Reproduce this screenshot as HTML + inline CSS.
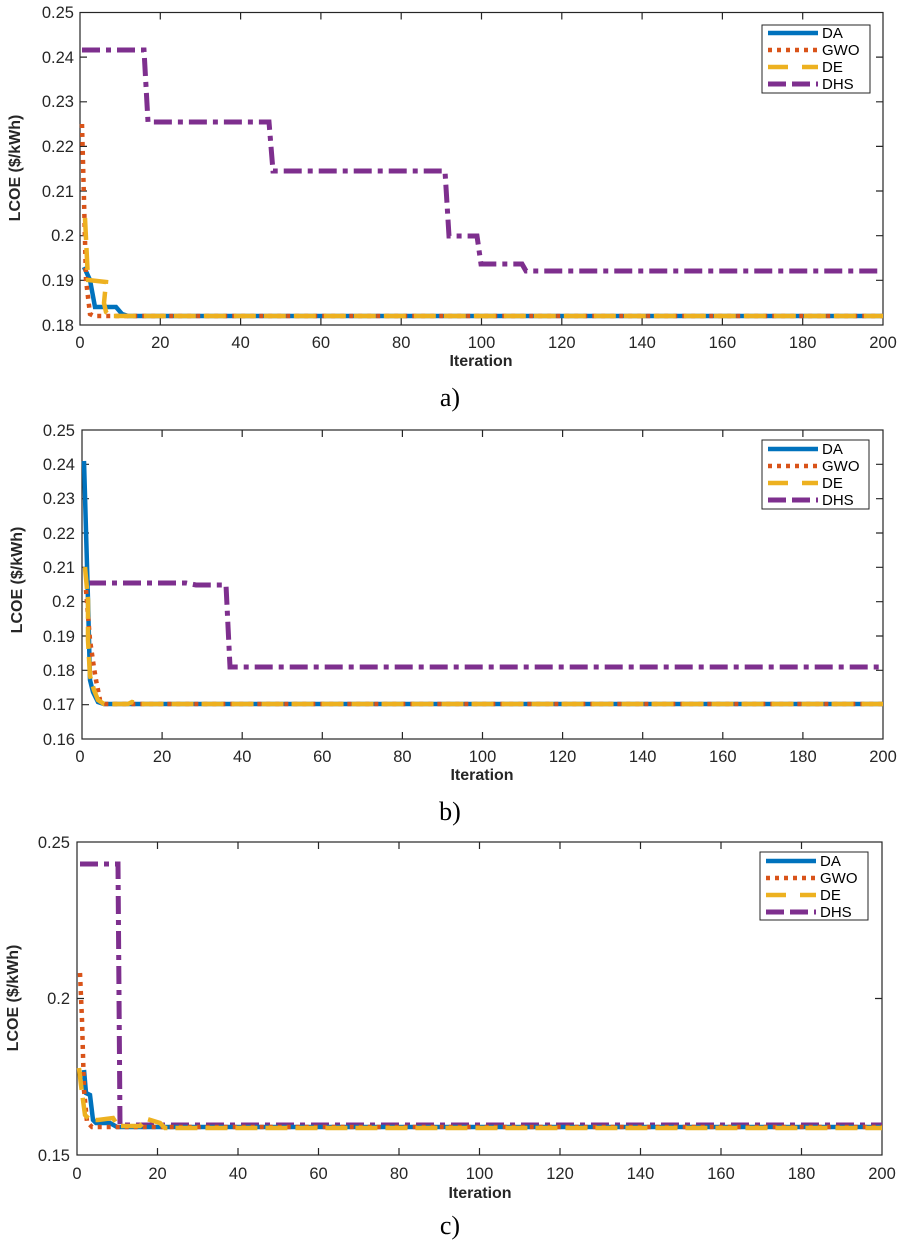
<!DOCTYPE html>
<html><head><meta charset="utf-8"><style>
html,body{margin:0;padding:0;background:#fff;}
svg{display:block;}
.t{font-family:"Liberation Sans",sans-serif;font-size:16.5px;fill:#262626;}
.b{font-family:"Liberation Sans",sans-serif;font-size:16px;font-weight:bold;fill:#262626;}
.cap{font-family:"Liberation Serif",serif;font-size:26px;fill:#000;}
.lg{font-family:"Liberation Sans",sans-serif;font-size:15px;fill:#000;}
.da{fill:none;stroke:#0072BD;stroke-width:4.5;}
.gw{fill:none;stroke:#D95319;stroke-width:4.5;stroke-dasharray:4 5;}
.de{fill:none;stroke:#EDB120;stroke-width:4.5;stroke-dasharray:22 8;}
.dh{fill:none;stroke:#7E2F8E;stroke-width:5;stroke-dasharray:18 6 5 6;}
.ax{fill:none;stroke:#262626;stroke-width:1.2;}
</style></head><body>
<svg width="900" height="1246" viewBox="0 0 900 1246" xmlns="http://www.w3.org/2000/svg">
<!-- Panel a -->
<g>
<rect x="80" y="12.5" width="803" height="312.5" class="ax"/>
<g class="ax">
<path d="M80,57.1h7M80,101.8h7M80,146.4h7M80,191h7M80,235.7h7M80,280.3h7M883,57.1h-7M883,101.8h-7M883,146.4h-7M883,191h-7M883,235.7h-7M883,280.3h-7"/>
<path d="M160.3,325v-7M240.6,325v-7M320.9,325v-7M401.2,325v-7M481.5,325v-7M561.8,325v-7M642.1,325v-7M722.4,325v-7M802.7,325v-7M160.3,12.5v7M240.6,12.5v7M320.9,12.5v7M401.2,12.5v7M481.5,12.5v7M561.8,12.5v7M642.1,12.5v7M722.4,12.5v7M802.7,12.5v7"/>
</g>
<g class="t" text-anchor="end">
<text x="74" y="18">0.25</text><text x="74" y="63">0.24</text><text x="74" y="107">0.23</text><text x="74" y="152">0.22</text><text x="74" y="197">0.21</text><text x="74" y="241">0.2</text><text x="74" y="286">0.19</text><text x="74" y="331">0.18</text>
</g>
<g class="t" text-anchor="middle">
<text x="80" y="348">0</text><text x="160.3" y="348">20</text><text x="240.6" y="348">40</text><text x="320.9" y="348">60</text><text x="401.2" y="348">80</text><text x="481.5" y="348">100</text><text x="561.8" y="348">120</text><text x="642.1" y="348">140</text><text x="722.4" y="348">160</text><text x="802.7" y="348">180</text><text x="883" y="348">200</text>
</g>
<text class="b" x="481" y="366" text-anchor="middle">Iteration</text>
<text class="b" transform="translate(20,168) rotate(-90)" text-anchor="middle">LCOE ($/kWh)</text>
<path class="dh" d="M82,50 L144,50 L148,122 L269,122 L273,171 L445,171 L449,236 L477,236 L481,264 L522,264 L526,271 L883,271"/>
<path class="da" d="M84,267 L90,280 L95,307 L116,307 L122,314 L128,316 L883,316"/>
<path class="gw" d="M82,124 L84,200 L86,280 L90,314 L94,316 L883,316"/>
<path class="de" d="M85,218 L88,280 L106,282 L104,303 L106,312 L110,316 L883,316"/>
<rect x="762" y="25" width="108" height="68" fill="#fff" stroke="#262626" stroke-width="1"/>
<path class="da" d="M768,33h50"/><path class="gw" d="M768,50h50"/><path class="de" d="M768,67h50" style="stroke-dasharray:20 14"/><path class="dh" d="M768,84h50" style="stroke-dasharray:18 6"/>
<text class="lg" x="822" y="38">DA</text><text class="lg" x="822" y="55">GWO</text><text class="lg" x="822" y="72">DE</text><text class="lg" x="822" y="89">DHS</text>
<text class="cap" x="450" y="406" text-anchor="middle">a)</text>
</g>
<!-- Panel b -->
<g>
<rect x="82" y="430" width="801" height="309" class="ax"/>
<g class="ax">
<path d="M82,464.3h7M82,498.7h7M82,533h7M82,567.3h7M82,601.7h7M82,636h7M82,670.3h7M82,704.7h7M883,464.3h-7M883,498.7h-7M883,533h-7M883,567.3h-7M883,601.7h-7M883,636h-7M883,670.3h-7M883,704.7h-7"/>
<path d="M162.1,739v-7M242.2,739v-7M322.3,739v-7M402.4,739v-7M482.5,739v-7M562.6,739v-7M642.7,739v-7M722.8,739v-7M802.9,739v-7M162.1,430v7M242.2,430v7M322.3,430v7M402.4,430v7M482.5,430v7M562.6,430v7M642.7,430v7M722.8,430v7M802.9,430v7"/>
</g>
<g class="t" text-anchor="end">
<text x="75" y="436">0.25</text><text x="75" y="470">0.24</text><text x="75" y="504">0.23</text><text x="75" y="539">0.22</text><text x="75" y="573">0.21</text><text x="75" y="607">0.2</text><text x="75" y="642">0.19</text><text x="75" y="676">0.18</text><text x="75" y="710">0.17</text><text x="75" y="745">0.16</text>
</g>
<g class="t" text-anchor="middle">
<text x="80" y="762">0</text><text x="162.1" y="762">20</text><text x="242.2" y="762">40</text><text x="322.3" y="762">60</text><text x="402.4" y="762">80</text><text x="482.5" y="762">100</text><text x="562.6" y="762">120</text><text x="642.7" y="762">140</text><text x="722.8" y="762">160</text><text x="802.9" y="762">180</text><text x="883" y="762">200</text>
</g>
<text class="b" x="482" y="780" text-anchor="middle">Iteration</text>
<text class="b" transform="translate(22,580) rotate(-90)" text-anchor="middle">LCOE ($/kWh)</text>
<path class="dh" d="M88,583 L186,583 L196,585 L226,585 L230,667 L883,667"/>
<path class="da" d="M84,461 L88,600 L90,680 L93,692 L98,702 L104,704 L883,704"/>
<path class="gw" d="M86,590 L90,640 L94,668 L96,680 L100,700 L104,704 L883,704"/>
<path class="de" d="M85,567 L88,600 L88,640 L90,676 L94,690 L98,700 L104,704 L128,704 L132,702 L140,704 L883,704"/>
<rect x="762" y="440" width="107" height="69" fill="#fff" stroke="#262626" stroke-width="1"/>
<path class="da" d="M768,449h50"/><path class="gw" d="M768,466h50"/><path class="de" d="M768,483h50" style="stroke-dasharray:20 14"/><path class="dh" d="M768,500h50" style="stroke-dasharray:18 6"/>
<text class="lg" x="822" y="454">DA</text><text class="lg" x="822" y="471">GWO</text><text class="lg" x="822" y="488">DE</text><text class="lg" x="822" y="505">DHS</text>
<text class="cap" x="450" y="820" text-anchor="middle">b)</text>
</g>
<!-- Panel c -->
<g>
<rect x="77" y="842" width="805" height="313" class="ax"/>
<g class="ax">
<path d="M77,998.5h7M882,998.5h-7"/>
<path d="M157.5,1155v-7M238,1155v-7M318.5,1155v-7M399,1155v-7M479.5,1155v-7M560,1155v-7M640.5,1155v-7M721,1155v-7M801.5,1155v-7M157.5,842v7M238,842v7M318.5,842v7M399,842v7M479.5,842v7M560,842v7M640.5,842v7M721,842v7M801.5,842v7"/>
</g>
<g class="t" text-anchor="end">
<text x="70" y="848">0.25</text><text x="70" y="1004">0.2</text><text x="70" y="1161">0.15</text>
</g>
<g class="t" text-anchor="middle">
<text x="77" y="1179">0</text><text x="157.5" y="1179">20</text><text x="238" y="1179">40</text><text x="318.5" y="1179">60</text><text x="399" y="1179">80</text><text x="479.5" y="1179">100</text><text x="560" y="1179">120</text><text x="640.5" y="1179">140</text><text x="721" y="1179">160</text><text x="801.5" y="1179">180</text><text x="882" y="1179">200</text>
</g>
<text class="b" x="480" y="1198" text-anchor="middle">Iteration</text>
<text class="b" transform="translate(18,998) rotate(-90)" text-anchor="middle">LCOE ($/kWh)</text>
<path class="dh" d="M80,864 L118,864 L120,1125 L882,1125"/>
<path class="da" d="M84,1070 L86,1093 L90,1095 L93,1120 L96,1123 L110,1123 L117,1127 L882,1127"/>
<path class="gw" d="M80,973 L82,1020 L84,1090 L87,1122 L92,1127 L882,1127"/>
<path class="de" d="M79,1068 L81,1085 L85,1115 L90,1120 L98,1120 L113,1118 L118,1126 L140,1126 L147,1119 L160,1123 L165,1128 L882,1128"/>
<rect x="760" y="852" width="108" height="68" fill="#fff" stroke="#262626" stroke-width="1"/>
<path class="da" d="M766,861h50"/><path class="gw" d="M766,878h50"/><path class="de" d="M766,895h50" style="stroke-dasharray:20 14"/><path class="dh" d="M766,912h50" style="stroke-dasharray:18 6"/>
<text class="lg" x="820" y="866">DA</text><text class="lg" x="820" y="883">GWO</text><text class="lg" x="820" y="900">DE</text><text class="lg" x="820" y="917">DHS</text>
<text class="cap" x="450" y="1234" text-anchor="middle">c)</text>
</g>
</svg>
</body></html>
